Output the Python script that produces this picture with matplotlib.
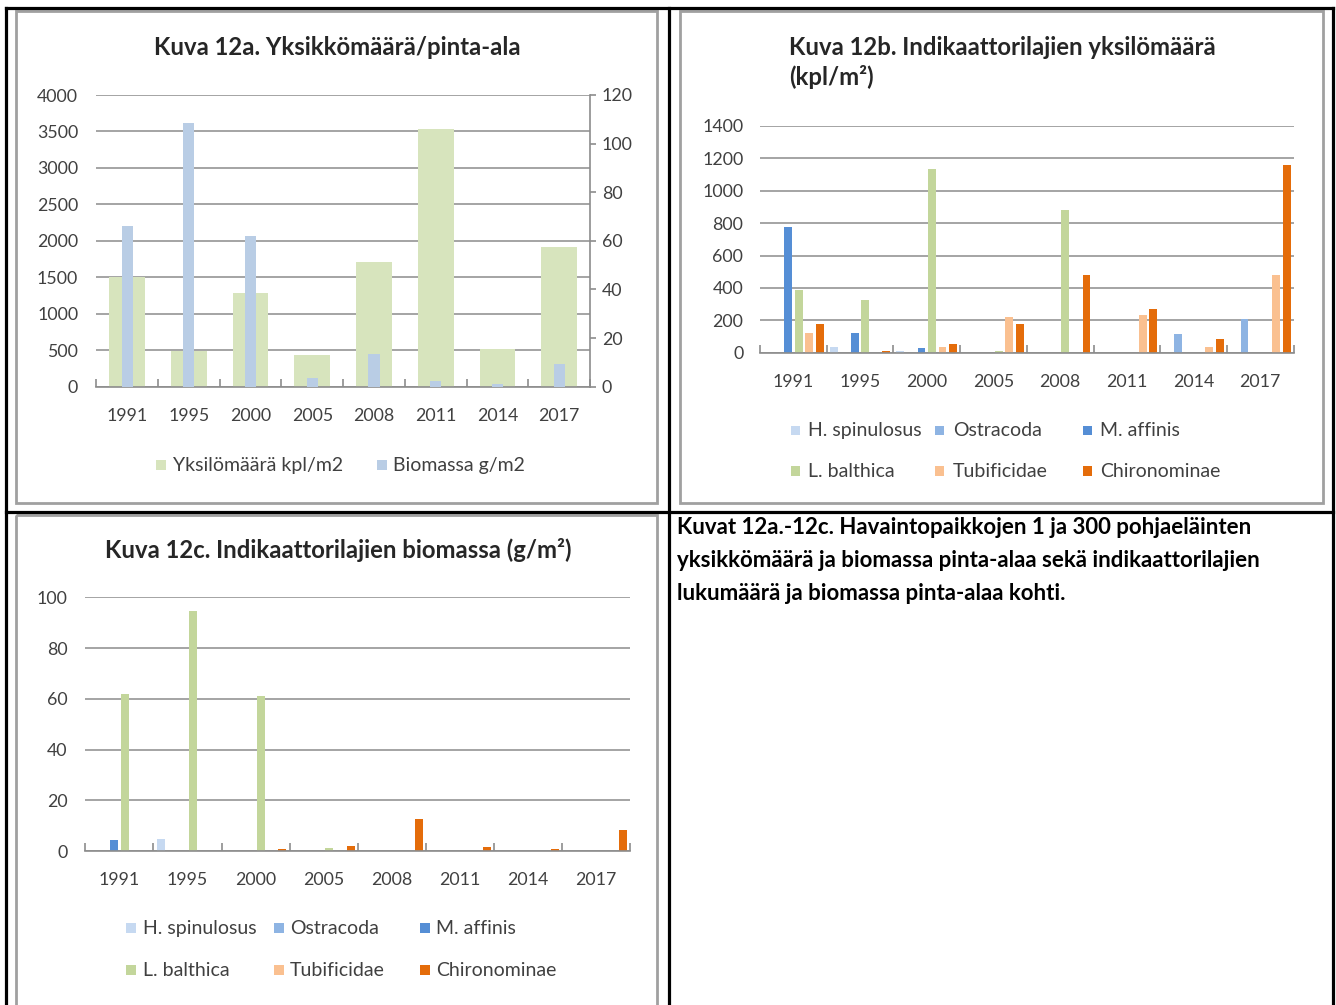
import matplotlib
matplotlib.use('Agg')
import matplotlib.pyplot as plt
from matplotlib.patches import Rectangle
import numpy as np

plt.rcParams['font.family'] = ['Lato', 'DejaVu Sans']

# data
years = ['1991', '1995', '2000', '2005', '2008', '2011', '2014', '2017']

# Kuva 12a
yksilomaara = [1500, 495, 1280, 430, 1715, 3530, 520, 1910]   # kpl/m2
biomassa = [66.2, 108.6, 62.1, 3.6, 13.6, 2.5, 1.0, 9.3]      # g/m2

# Kuva 12b / 12c series
lajit = ['H. spinulosus', 'Ostracoda', 'M. affinis', 'L. balthica', 'Tubificidae', 'Chironominae']
varit = ['#C6D9F1', '#8EB4E3', '#558ED5', '#C3D69B', '#FAC090', '#E46C0A']

# yksilömäärä kpl/m2
kpl = {
    'H. spinulosus': [0, 35, 10, 0, 0, 0, 0, 0],
    'Ostracoda':     [0, 0, 0, 0, 0, 0, 113, 206],
    'M. affinis':    [778, 122, 27, 0, 0, 0, 0, 0],
    'L. balthica':   [387, 327, 1133, 12, 881, 0, 0, 0],
    'Tubificidae':   [122, 0, 35, 219, 0, 233, 35, 478],
    'Chironominae':  [177, 12, 52, 177, 478, 272, 83, 1157],
}
# biomassa g/m2
gm2 = {
    'H. spinulosus': [0, 4.7, 0, 0, 0, 0, 0, 0],
    'Ostracoda':     [0, 0, 0, 0, 0, 0, 0, 0],
    'M. affinis':    [4.2, 0, 0, 0, 0, 0, 0, 0],
    'L. balthica':   [61.8, 94.6, 61.2, 1.2, 0, 0, 0, 0],
    'Tubificidae':   [0, 0, 0, 0, 0, 0, 0, 0],
    'Chironominae':  [0, 0, 0.8, 2.1, 12.7, 1.6, 0.7, 8.3],
}

W, H = 1336, 1005
GRID = '#8C8C8C'
TXT = '#404040'
TITLE = '#262626'
TICK_FS = 12.8
LEG_FS = 14
TITLE_FS = 17.2


def rect(x0, y0, x1, y1):
    return [x0 / W, 1 - y1 / H, (x1 - x0) / W, (y1 - y0) / H]


fig = plt.figure(figsize=(W / 100, H / 100), dpi=100)
bg = fig.add_axes([0, 0, 1, 1])
bg.set_xlim(0, W)
bg.set_ylim(H, 0)
bg.axis('off')

# table borders
for (xa, ya, xb, yb) in [(6, 8, 1333, 8), (6, 8, 6, 1010), (1333, 8, 1333, 1010),
                         (669, 8, 669, 1010), (6, 512, 1333, 512)]:
    bg.plot([xa, xb], [ya, yb], color='black', lw=2.3, solid_capstyle='projecting')
# chart frames
for (xa, ya, xb, yb) in [(16, 11, 657, 503), (680, 11, 1323, 503), (16, 515, 657, 1012)]:
    bg.add_patch(Rectangle((xa, ya), xb - xa, yb - ya, fill=False, ec='#A0A0A0', lw=2.0))

# caption
caption = ['Kuvat 12a.-12c. Havaintopaikkojen 1 ja 300 pohjaeläinten',
           'yksikkömäärä ja biomassa pinta-alaa sekä indikaattorilajien',
           'lukumäärä ja biomassa pinta-alaa kohti.']
for i, line in enumerate(caption):
    bg.text(677, 527 + 33 * i, line, fontsize=16, fontweight='bold', color='black',
            ha='left', va='center')


def style_axis(ax, pad_y):
    for s in ['top', 'left', 'right']:
        ax.spines[s].set_visible(False)
    ax.spines['bottom'].set_color(GRID)
    ax.spines['bottom'].set_linewidth(1.2)
    ax.yaxis.grid(True, color=GRID, lw=1.1)
    ax.set_axisbelow(True)
    ax.tick_params(axis='y', length=0, pad=pad_y, labelsize=TICK_FS, labelcolor=TXT)
    ax.set_xticks(np.arange(len(years)))
    ax.set_xticklabels(years)
    ax.tick_params(axis='x', which='major', length=0, pad=15, labelsize=TICK_FS, labelcolor=TXT)
    ax.set_xticks(np.arange(len(years) + 1) - 0.5, minor=True)
    ax.tick_params(axis='x', which='minor', direction='in', length=5.5, width=1.2, color=GRID)
    ax.set_xlim(-0.5, len(years) - 0.5)


def legend_box(items, xs_sq, xs_txt, ys):
    for (name, col), xs, xt, yy in zip(items, xs_sq, xs_txt, ys):
        bg.add_patch(Rectangle((xs - 4.6, yy - 4.6), 9.2, 9.2, color=col, lw=0))
        bg.text(xt, yy, name, fontsize=LEG_FS, color=TXT, ha='left', va='center')


# ---- Kuva 12a
x = np.arange(len(years))
ax1 = fig.add_axes(rect(96.3, 95, 590, 386.7))
ax1.patch.set_alpha(0)
ax1.bar(x, yksilomaara, width=0.58, color='#D7E4BD')
ax1.set_ylim(0, 4000)
ax1.set_yticks(np.arange(0, 4001, 500))
style_axis(ax1, 13)
ax2 = ax1.twinx()
ax2.bar(x, biomassa, width=0.18, color='#B9CDE5')
ax2.set_ylim(0, 120)
ax2.set_yticks(np.arange(0, 121, 20))
for s in ['top', 'left', 'bottom']:
    ax2.spines[s].set_visible(False)
ax2.spines['right'].set_color(GRID)
ax2.spines['right'].set_linewidth(1.2)
ax2.tick_params(axis='y', length=4.5, width=1.2, color=GRID, pad=4, labelsize=TICK_FS, labelcolor=TXT)
bg.text(337, 47, 'Kuva 12a. Yksikkömäärä/pinta-ala', fontsize=TITLE_FS, fontweight='bold',
        color=TITLE, ha='center', va='center')
legend_box([('Yksilömäärä kpl/m2', '#D7E4BD'), ('Biomassa g/m2', '#B9CDE5')],
           [161, 382], [173, 393], [465, 465])

pitch, bw = 0.158, 0.118

# ---- Kuva 12b
ax3 = fig.add_axes(rect(760, 126, 1293.6, 352.7))
ax3.patch.set_alpha(0)
for i, (laji, vari) in enumerate(zip(lajit, varit)):
    ax3.bar(x + (i - 2.5) * pitch, kpl[laji], width=bw, color=vari)
ax3.set_ylim(0, 1400)
ax3.set_yticks(np.arange(0, 1401, 200))
style_axis(ax3, 12)
bg.text(789, 47, 'Kuva 12b. Indikaattorilajien yksilömäärä', fontsize=TITLE_FS, fontweight='bold',
        color=TITLE, ha='left', va='center')
bg.text(789, 77, '(kpl/m²)', fontsize=TITLE_FS, fontweight='bold', color=TITLE, ha='left', va='center')
legend_box(list(zip(lajit, varit)),
           [795.3, 939.7, 1087.3] * 2, [807.7, 952.7, 1100] * 2, [430.7] * 3 + [471] * 3)

# ---- Kuva 12c
ax4 = fig.add_axes(rect(85.4, 597.3, 630, 851))
ax4.patch.set_alpha(0)
for i, (laji, vari) in enumerate(zip(lajit, varit)):
    ax4.bar(x + (i - 2.5) * pitch, gm2[laji], width=bw, color=vari)
ax4.set_ylim(0, 100)
ax4.set_yticks(np.arange(0, 101, 20))
style_axis(ax4, 13)
bg.text(338, 550, 'Kuva 12c. Indikaattorilajien biomassa (g/m²)', fontsize=TITLE_FS, fontweight='bold',
        color=TITLE, ha='center', va='center')
legend_box(list(zip(lajit, varit)),
           [131, 279, 425] * 2, [143, 290, 436] * 2, [928] * 3 + [970] * 3)

fig.savefig('out.png', dpi=100)
